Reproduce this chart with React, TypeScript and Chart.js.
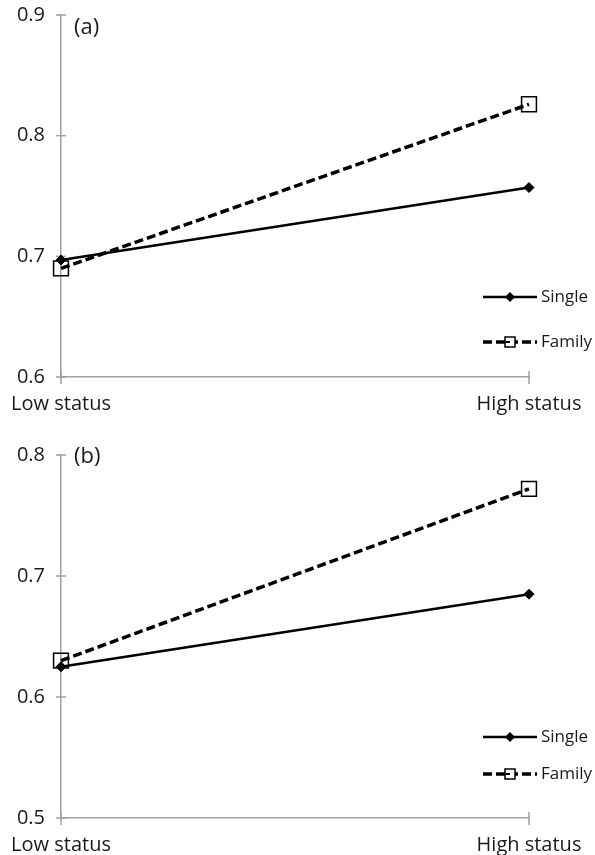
import React, { useEffect, useRef } from 'react';
import { Chart, registerables } from 'chart.js';

Chart.register(...registerables);

const categories = ['Low status', 'High status'];
const seriesNames = ['Single', 'Family'];
const singleA = [0.697, 0.757];
const familyA = [0.69, 0.826];
const singleB = [0.625, 0.685];
const familyB = [0.63, 0.772];
const yRangeA = [0.6, 0.9];
const yRangeB = [0.5, 0.8];
const panelLabels = ['(a)', '(b)'];

const FONT = '"Open Sans", Lato, sans-serif';
const TEXT = '#1a1a1a';
const AXIS = '#a0a0a0';

type PanelCfg = {
  single: number[];
  family: number[];
  range: number[];
  label: string;
  padTop: number;
  xAxisH: number;
  labelDy: number;
  legendDy: number[];
};

function makeChart(canvas: HTMLCanvasElement, cfg: PanelCfg) {
  const panelPlugin = {
    id: 'panelDeco',
    beforeDatasetsDraw(chart: any) {
      const ctx = chart.ctx;
      const xs = chart.scales.x;
      const ys = chart.scales.y;
      const area = chart.chartArea;
      ctx.save();
      ctx.strokeStyle = AXIS;
      ctx.lineWidth = 1.5;
      ys.ticks.forEach((t: any) => {
        const py = ys.getPixelForValue(t.value);
        ctx.beginPath();
        ctx.moveTo(area.left - 5, py);
        ctx.lineTo(area.left + 5, py);
        ctx.stroke();
      });
      categories.forEach((_, i) => {
        const px = xs.getPixelForValue(i);
        ctx.beginPath();
        ctx.moveTo(px, area.bottom - 6);
        ctx.lineTo(px, area.bottom + 7);
        ctx.stroke();
      });
      ctx.restore();
    },
    afterDraw(chart: any) {
      const ctx = chart.ctx;
      const area = chart.chartArea;
      ctx.save();
      ctx.fillStyle = TEXT;
      ctx.font = `22px ${FONT}`;
      ctx.textBaseline = 'middle';
      ctx.textAlign = 'left';
      ctx.fillText(cfg.label, area.left + 13, area.top + cfg.labelDy);

      // legend
      chart.data.datasets.forEach((ds: any, i: number) => {
        const y = area.bottom - cfg.legendDy[i];
        const x0 = area.right - 46;
        const x1 = area.right + 8;
        const xm = (x0 + x1) / 2;
        ctx.save();
        ctx.strokeStyle = '#000';
        ctx.lineWidth = ds.borderWidth;
        ctx.setLineDash(ds.borderDash || []);
        ctx.beginPath();
        ctx.moveTo(x0, y);
        ctx.lineTo(x1, y);
        ctx.stroke();
        ctx.setLineDash([]);
        if (ds.pointStyle === 'rectRot') {
          const r = 5;
          ctx.fillStyle = '#000';
          ctx.beginPath();
          ctx.moveTo(xm - r, y);
          ctx.lineTo(xm, y - r);
          ctx.lineTo(xm + r, y);
          ctx.lineTo(xm, y + r);
          ctx.closePath();
          ctx.fill();
        } else {
          const s = 5;
          ctx.lineWidth = 1.5;
          ctx.fillStyle = '#fff';
          ctx.fillRect(xm - s, y - s, 2 * s, 2 * s);
          ctx.strokeRect(xm - s, y - s, 2 * s, 2 * s);
          ctx.lineWidth = 2;
          ctx.beginPath();
          ctx.moveTo(xm - s, y);
          ctx.lineTo(xm, y);
          ctx.stroke();
        }
        ctx.restore();
        ctx.fillStyle = TEXT;
        ctx.font = `17px ${FONT}`;
        ctx.textBaseline = 'middle';
        ctx.fillText(ds.label, x1 + 4, y);
      });
      ctx.restore();
    },
  };

  return new Chart(canvas, {
    type: 'line',
    data: {
      labels: categories,
      datasets: [
        {
          label: seriesNames[0],
          data: cfg.single,
          borderColor: '#000',
          borderWidth: 2.5,
          pointStyle: 'rectRot',
          pointRadius: 5,
          pointBackgroundColor: '#000',
          pointBorderColor: '#000',
          pointBorderWidth: 1,
          tension: 0,
          clip: false,
        } as any,
        {
          label: seriesNames[1],
          data: cfg.family,
          borderColor: '#000',
          borderWidth: 3.5,
          borderDash: [9, 4],
          pointStyle: 'rect',
          pointRadius: 10.5,
          pointBackgroundColor: 'rgba(0,0,0,0)',
          pointBorderColor: '#000',
          pointBorderWidth: 1.5,
          tension: 0,
          clip: false,
        } as any,
      ],
    },
    options: {
      animation: false,
      responsive: false,
      layout: { autoPadding: false, padding: { left: 0, right: 66, top: cfg.padTop, bottom: 0 } },
      plugins: { legend: { display: false }, tooltip: { enabled: false } },
      scales: {
        x: {
          type: 'category',
          offset: false,
          grid: { display: false, drawTicks: false },
          border: { display: true, color: AXIS, width: 1.5 },
          ticks: { padding: 15, color: TEXT, font: { family: FONT, size: 20 }, maxRotation: 0, autoSkip: false },
          afterFit: (s: any) => {
            s.height = cfg.xAxisH;
            s.paddingLeft = 0; s.paddingRight = 0; s.paddingTop = 0; s.paddingBottom = 0;
          },
        },
        y: {
          min: cfg.range[0],
          max: cfg.range[1],
          grid: { display: false, drawTicks: false },
          border: { display: true, color: AXIS, width: 1.5 },
          ticks: {
            stepSize: 0.1,
            padding: 16,
            color: TEXT,
            font: { family: FONT, size: 20 },
            callback: (v: any) => Number(v).toFixed(1),
          },
          afterFit: (s: any) => {
            s.width = 61;
            s.paddingLeft = 0; s.paddingRight = 0; s.paddingTop = 0; s.paddingBottom = 0;
          },
        },
      },
    } as any,
    plugins: [panelPlugin],
  });
}

function Panel({ cfg, height, top }: { cfg: PanelCfg; height: number; top: number }) {
  const ref = useRef<HTMLCanvasElement>(null);
  useEffect(() => {
    if (!ref.current) return;
    const c = makeChart(ref.current, cfg);
    return () => c.destroy();
  }, []);
  return (
    <canvas
      ref={ref}
      width={595}
      height={height}
      style={{ position: 'absolute', left: 0, top, width: 595, height }}
    />
  );
}

export default function App() {
  const cfgA: PanelCfg = {
    single: singleA,
    family: familyA,
    range: yRangeA,
    label: panelLabels[0],
    padTop: 15,
    xAxisH: 43,
    labelDy: 13,
    legendDy: [80, 35],
  };
  const cfgB: PanelCfg = {
    single: singleB,
    family: familyB,
    range: yRangeB,
    label: panelLabels[1],
    padTop: 35,
    xAxisH: 37,
    labelDy: 2,
    legendDy: [81, 44],
  };
  return (
    <div style={{ position: 'absolute', left: 0, top: 0, width: 595, height: 855, background: '#fff' }}>
      <Panel cfg={cfgA} height={420} top={0} />
      <Panel cfg={cfgB} height={435} top={420} />
    </div>
  );
}
